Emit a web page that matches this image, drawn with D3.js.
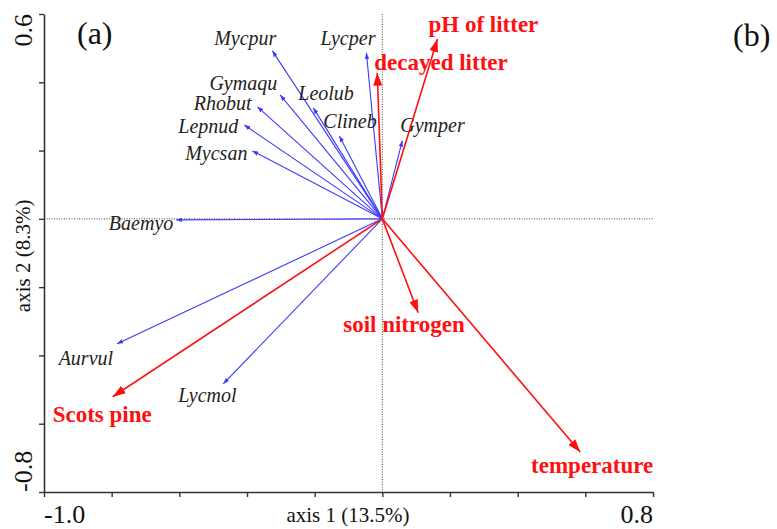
<!DOCTYPE html>
<html>
<head>
<meta charset="utf-8">
<script src="https://cdn.jsdelivr.net/npm/d3@7"></script>
<style>
  body { margin: 0; background: #fff; }
  svg text { font-family: "Liberation Serif", "Times New Roman", serif; }
</style>
</head>
<body>
<div id="chart"></div>
<script>
// species scores (blue arrows)
var species  = ["Mycpur", "Lycper", "Gymaqu", "Rhobut", "Lepnud", "Mycsan", "Leolub", "Clineb", "Gymper", "Baemyo", "Aurvul", "Lycmol"];
var speciesX = [-0.325, -0.047, -0.302, -0.369, -0.408, -0.384, -0.204, -0.127, 0.059, -0.609, -0.784, -0.470];
var speciesY = [ 0.492,  0.486,  0.363,  0.328,  0.275,  0.199,  0.325,  0.243, 0.229, -0.003, -0.366, -0.483];

// environmental variables (red arrows)
var envVars = ["pH of litter", "decayed litter", "soil nitrogen", "temperature", "Scots pine"];
var envX    = [0.163, -0.015,  0.106,  0.585, -0.797];
var envY    = [0.527,  0.428, -0.275, -0.683, -0.521];

// axis ends
var xTicks = [-1.0, -0.8, -0.6, -0.4, -0.2, 0, 0.2, 0.4, 0.6, 0.8];
var yTicks = [-0.8, -0.6, -0.4, -0.2, 0, 0.2, 0.4, 0.6];
var xTitle = "axis 1 (13.5%)";
var yTitle = "axis 2 (8.3%)";

// label placement relative to arrow tip (px)
var labelPos = {
    "Mycpur": [4, -6, "end"], "Lycper": [9, -8, "end"], "Gymaqu": [-3, -5, "end"],
    "Rhobut": [-6, 3, "end"], "Lepnud": [-6, 8, "end"], "Mycsan": [-5, 9, "end"],
    "Leolub": [-15, -8, "start"], "Clineb": [-16, -8, "start"], "Gymper": [-2, -9, "start"],
    "Baemyo": [-3, 10, "end"], "Aurvul": [-4, 21, "end"], "Lycmol": [-45, 18, "start"],
    "pH of litter": [-9, -7, "start"], "decayed litter": [-3, -3, "start"],
    "soil nitrogen": [-75, 19, "start"], "temperature": [73, 21, "end"], "Scots pine": [-60, 25, "start"]
};

var margin = { left: 44, right: 124, top: 14, bottom: 37 };
var width = 777 - margin.left - margin.right;
var height = 529 - margin.top - margin.bottom;

var svg = d3.select("#chart").append("svg")
    .attr("width", 777)
    .attr("height", 529);

var defs = svg.append("defs");
function marker(id, len, wid, col) {
    defs.append("marker")
        .attr("id", id)
        .attr("markerUnits", "userSpaceOnUse")
        .attr("viewBox", "0 0 " + len + " " + wid)
        .attr("refX", len).attr("refY", wid / 2)
        .attr("markerWidth", len).attr("markerHeight", wid)
        .attr("orient", "auto")
        .append("path")
        .attr("d", "M0,0L" + len + "," + (wid / 2) + "L0," + wid + "Z")
        .attr("fill", col);
}
marker("headBlue", 6, 4.5, "#3a3aff");
marker("headRed", 13, 9, "#ff1010");

var g = svg.append("g")
    .attr("transform", "translate(" + margin.left + "," + margin.top + ")");

var x = d3.scaleLinear().domain([-1.0, 0.8]).range([0, width]);
var y = d3.scaleLinear().domain([-0.8, 0.6]).range([height, 0]);

// dotted zero lines
g.append("line")
    .attr("x1", 0).attr("x2", width)
    .attr("y1", y(0)).attr("y2", y(0))
    .attr("stroke", "#444").attr("stroke-width", 1).attr("stroke-dasharray", "1,1.5");
g.append("line")
    .attr("x1", x(0)).attr("x2", x(0))
    .attr("y1", 0).attr("y2", height)
    .attr("stroke", "#444").attr("stroke-width", 1).attr("stroke-dasharray", "1,1.5");

// axes
var xAxisCall = d3.axisBottom(x).tickValues(xTicks).tickFormat("").tickSizeInner(5).tickSizeOuter(0);
var yAxisCall = d3.axisLeft(y).tickValues(yTicks).tickFormat("").tickSizeInner(5).tickSizeOuter(0);
var xAxis = g.append("g").attr("transform", "translate(0," + height + ")").call(xAxisCall);
var yAxis = g.append("g").call(yAxisCall);
[xAxis, yAxis].forEach(function(a) {
    a.select(".domain").attr("stroke", "#333").attr("stroke-width", 1.6);
    a.selectAll(".tick line").attr("stroke", "#333").attr("stroke-width", 1.4);
});

// end labels
g.append("text").attr("x", x(xTicks[0])).attr("y", height + 31)
    .attr("font-size", 26).attr("fill", "#111").text(xTicks[0].toFixed(1));
g.append("text").attr("x", x(xTicks[xTicks.length - 1])).attr("y", height + 31)
    .attr("text-anchor", "end").attr("font-size", 26).attr("fill", "#111")
    .text(xTicks[xTicks.length - 1].toFixed(1));
g.append("text")
    .attr("transform", "translate(-12," + y(yTicks[yTicks.length - 1]) + ") rotate(-90)")
    .attr("text-anchor", "end").attr("font-size", 26).attr("fill", "#111")
    .text(yTicks[yTicks.length - 1].toFixed(1));
g.append("text")
    .attr("transform", "translate(-12," + y(yTicks[0]) + ") rotate(-90)")
    .attr("text-anchor", "start").attr("font-size", 26).attr("fill", "#111")
    .text(yTicks[0].toFixed(1));

// axis titles
g.append("text").attr("x", 304).attr("y", height + 30)
    .attr("text-anchor", "middle").attr("font-size", 21).attr("fill", "#111").text(xTitle);
g.append("text")
    .attr("transform", "translate(-14," + (y(0) + 37) + ") rotate(-90)")
    .attr("text-anchor", "middle").attr("font-size", 21).attr("fill", "#111").text(yTitle);

// species arrows
var sp = species.map(function(d, i) { return { name: d, x: speciesX[i], y: speciesY[i] }; });
g.selectAll(".sp-arrow").data(sp).enter().append("line")
    .attr("class", "sp-arrow")
    .attr("x1", x(0)).attr("y1", y(0))
    .attr("x2", function(d) { return x(d.x); })
    .attr("y2", function(d) { return y(d.y); })
    .attr("stroke", "#3a3aff").attr("stroke-width", 1.1)
    .attr("marker-end", "url(#headBlue)");
g.selectAll(".sp-label").data(sp).enter().append("text")
    .attr("class", "sp-label")
    .attr("x", function(d) { return x(d.x) + labelPos[d.name][0]; })
    .attr("y", function(d) { return y(d.y) + labelPos[d.name][1]; })
    .attr("text-anchor", function(d) { return labelPos[d.name][2]; })
    .attr("font-size", 20).attr("font-style", "italic").attr("fill", "#222")
    .text(function(d) { return d.name; });

// environmental arrows
var env = envVars.map(function(d, i) { return { name: d, x: envX[i], y: envY[i] }; });
g.selectAll(".env-arrow").data(env).enter().append("line")
    .attr("class", "env-arrow")
    .attr("x1", x(0)).attr("y1", y(0))
    .attr("x2", function(d) { return x(d.x); })
    .attr("y2", function(d) { return y(d.y); })
    .attr("stroke", "#ff1010").attr("stroke-width", 1.6)
    .attr("marker-end", "url(#headRed)");
g.selectAll(".env-label").data(env).enter().append("text")
    .attr("class", "env-label")
    .attr("x", function(d) { return x(d.x) + labelPos[d.name][0]; })
    .attr("y", function(d) { return y(d.y) + labelPos[d.name][1]; })
    .attr("text-anchor", function(d) { return labelPos[d.name][2]; })
    .attr("font-size", 23).attr("font-weight", "bold").attr("fill", "#ff1010")
    .text(function(d) { return d.name; });

// panel letters
svg.append("text").attr("x", 77).attr("y", 44).attr("font-size", 32).attr("fill", "#111").text("(a)");
svg.append("text").attr("x", 733).attr("y", 46).attr("font-size", 32).attr("fill", "#111").text("(b)");
</script>
</body>
</html>
